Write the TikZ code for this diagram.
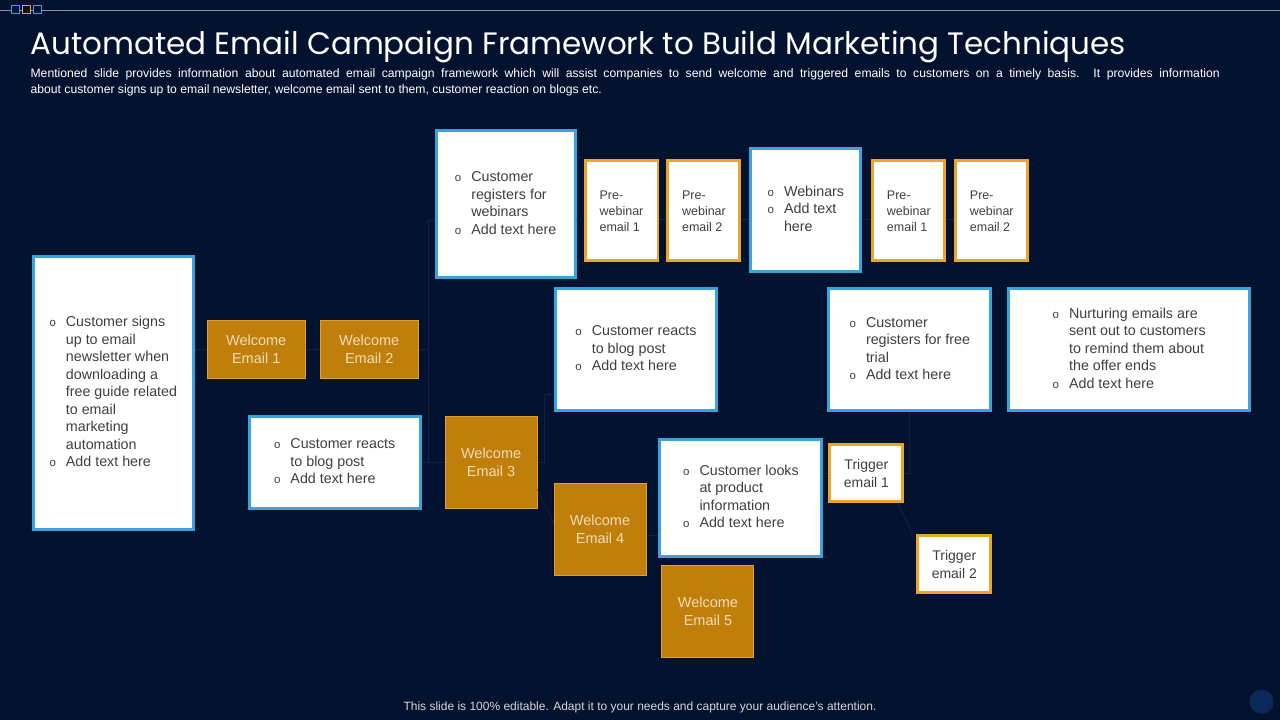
\documentclass[tikz,border=0pt]{standalone}
\usepackage{fontspec}
\setmainfont{Liberation Sans}
\newfontfamily\titlefont{Poppins}
\usetikzlibrary{positioning}

\definecolor{bgcol}{HTML}{03132F}
\definecolor{boxblue}{HTML}{3AA3DD}
\definecolor{welfill}{HTML}{C07E0B}
\definecolor{welline}{HTML}{E0A035}
\definecolor{weltxt}{HTML}{F2DDB5}
\definecolor{preline}{HTML}{EBA52B}
\definecolor{txtgray}{HTML}{3F3F3F}
\definecolor{linkcol}{HTML}{102245}
\definecolor{rulecol}{HTML}{8495AE}
\definecolor{footgray}{HTML}{D6D6D6}
\definecolor{dotcol}{HTML}{0B2A5C}

% small o bullet
\newcommand{\bu}{{\fontsize{11.5}{11.5}\selectfont o}}

\begin{document}
\begin{tikzpicture}[x=1pt,y=-1pt,
    bluebox/.style={draw=boxblue,line width=3pt,fill=white,inner sep=0pt,text=txtgray,
      font=\fontsize{14.3}{17.5}\selectfont},
    wbox/.style={draw=welline,line width=1pt,fill=welfill,inner sep=0pt,text=weltxt,
      align=center,font=\fontsize{14.5}{18}\selectfont},
    prebox/.style={draw=preline,line width=3pt,fill=white,inner sep=0pt,text=txtgray,
      font=\fontsize{12.5}{16}\selectfont},
    link/.style={draw=linkcol,line width=0.8pt}]

  % background and top rule
  \fill[bgcol] (0,0) rectangle (1280,720);
  \draw[rulecol,line width=0.8pt] (0,10) -- (1280,10);
  \draw[boxblue,fill=bgcol,line width=1pt] (11,6) rectangle (19,14);
  \draw[preline,fill=bgcol,line width=1pt] (22,6) rectangle (30,14);
  \draw[boxblue,fill=bgcol,line width=1pt] (33,6) rectangle (41,14);
  \fill[dotcol] (1262,702) circle (12);

  % heading
  \node[anchor=base west,inner sep=0pt,text=white,font=\titlefont\fontsize{31}{36}\selectfont] (title) at (30,55)
    {Automated Email Campaign Framework to Build Marketing Techniques};
  \node[anchor=north west,inner sep=0pt,align=left,text=white,font=\fontsize{12.2}{16}\selectfont] (desc) at (30,69)
    {\makebox[1190pt][s]{Mentioned slide provides  information  about automated email campaign framework  which will assist companies to send welcome  and triggered  emails to customers on a timely basis. It provides  information}\\
     about  customer signs up to email newsletter,  welcome  email  sent to them,  customer reaction  on blogs  etc.};

  % boxes
  \node[bluebox,minimum width=160pt,minimum height=273pt] (lft) at (113,393.5)
    {\begin{tabular}{@{}l@{\hspace{10pt}}l@{}}
      \bu & Customer signs\\ & up to email\\ & newsletter when\\ & downloading a\\ & free guide related\\
          & to email\\ & marketing\\ & automation\\ \bu & Add text here
    \end{tabular}};
  \node[wbox,minimum width=98pt,minimum height=58pt] (we1) at (256,350) {Welcome\\Email 1};
  \node[wbox,minimum width=98pt,minimum height=58pt] (we2) at (369,350) {Welcome\\Email 2};
  \node[bluebox,minimum width=171pt,minimum height=92pt] (blog1) at (334.5,463)
    {\begin{tabular}{@{}l@{\hspace{10pt}}l@{}}
      \bu & Customer reacts\\ & to blog post\\ \bu & Add text here
    \end{tabular}};
  \node[wbox,minimum width=92pt,minimum height=92pt] (we3) at (491,463) {Welcome\\Email 3};
  \node[bluebox,minimum width=139pt,minimum height=147pt] (reg) at (505.5,204.5)
    {\begin{tabular}{@{}l@{\hspace{10pt}}l@{}}
      \bu & Customer\\ & registers for\\ & webinars\\ \bu & Add text here
    \end{tabular}};
  \node[prebox,minimum width=73pt,minimum height=100pt,align=left] (pre1) at (621.5,211) {Pre-\\webinar\\email 1};
  \node[prebox,minimum width=72pt,minimum height=100pt,align=left] (pre2) at (704,211) {Pre-\\webinar\\email 2};
  \node[bluebox,minimum width=110pt,minimum height=123pt] (web) at (806,210.5)
    {\begin{tabular}{@{}l@{\hspace{10pt}}l@{}}
      \bu & Webinars\\ \bu & Add text\\ & here
    \end{tabular}};
  \node[prebox,minimum width=72pt,minimum height=100pt,align=left] (pre3) at (909,211) {Pre-\\webinar\\email 1};
  \node[prebox,minimum width=72pt,minimum height=100pt,align=left] (pre4) at (992,211) {Pre-\\webinar\\email 2};
  \node[bluebox,minimum width=162pt,minimum height=122pt] (blog2) at (636,350)
    {\begin{tabular}{@{}l@{\hspace{10pt}}l@{}}
      \bu & Customer reacts\\ & to blog post\\ \bu & Add text here
    \end{tabular}};
  \node[wbox,minimum width=92pt,minimum height=92pt] (we4) at (600,530) {Welcome\\Email 4};
  \node[bluebox,minimum width=162pt,minimum height=117pt] (look) at (741,498.5)
    {\begin{tabular}{@{}l@{\hspace{10pt}}l@{}}
      \bu & Customer looks\\ & at product\\ & information\\ \bu & Add text here
    \end{tabular}};
  \node[wbox,minimum width=92pt,minimum height=92pt] (we5) at (708,612) {Welcome\\Email 5};
  \node[bluebox,minimum width=162pt,minimum height=122pt] (trial) at (910,350)
    {\begin{tabular}{@{}l@{\hspace{10pt}}l@{}}
      \bu & Customer\\ & registers for free\\ & trial\\ \bu & Add text here
    \end{tabular}};
  \node[bluebox,minimum width=241pt,minimum height=122pt] (nurt) at (1129.5,350)
    {\begin{tabular}{@{}l@{\hspace{10pt}}l@{}}
      \bu & Nurturing emails are\\ & sent out to customers\\ & to remind them about\\ & the offer ends\\ \bu & Add text here
    \end{tabular}};
  \node[prebox,minimum width=73pt,minimum height=57pt,align=center,font=\fontsize{14}{18}\selectfont] (trig1) at (866.5,473.5) {Trigger\\email 1};
  \node[prebox,minimum width=73pt,minimum height=57pt,align=center,font=\fontsize{14}{18}\selectfont] (trig2) at (954.5,564.5) {Trigger\\email 2};

  % faint connectors
  \draw[link] (we1.west -| lft.east) -- (we1.west);
  \draw[link] (we1) -- (we2);
  \draw[link] (we2.east) -- ++(10,0) coordinate (j1);
  \draw[link] ([yshift=-16pt]reg.west -| j1) -- (j1 |- we3.west);
  \draw[link] ([yshift=-16pt]reg.west -| j1) -- ([yshift=-16pt]reg.west);
  \draw[link] (blog1) -- (we3);
  \draw[link] ([yshift=-16pt]reg.east) -- ([yshift=-9pt]pre1.west);
  \draw[link] ([yshift=-9pt]pre1.east) -- ([yshift=-9pt]pre2.west);
  \draw[link] ([yshift=-9pt]pre2.east) -- ([yshift=-9.5pt]web.west);
  \draw[link] ([yshift=-9.5pt]web.east) -- ([yshift=-9pt]pre3.west);
  \draw[link] ([yshift=-9pt]pre3.east) -- ([yshift=-9pt]pre4.west);
  \draw[link] (we3.east) -- ++(7,0) coordinate (j2);
  \draw[link] (j2) -- (j2 |- 0,395) -- ([yshift=-45pt]blog2.west);
  \draw[link] ([yshift=-27pt]we3.east) -- ([yshift=7pt]we4.west);
  \draw[link] ([yshift=-6pt]we4.east) -- (look.west |- 0,536);
  \draw[link] (look.east |- trig1.west) -- (trig1.west);
  \draw[link] (trial.south) -- (trial.south |- trig1.east) -- (trig1.east);
  \draw[link] ([xshift=-6pt]trig1.south east) -- ([xshift=-3pt,yshift=-3pt]trig2.north west);

  % footer
  \node[text=footgray,font=\fontsize{12}{14}\selectfont] (foot) at (640,708)
    {This slide is 100\% editable. Adapt it to your needs and capture your audience's attention.};
\end{tikzpicture}
\end{document}
